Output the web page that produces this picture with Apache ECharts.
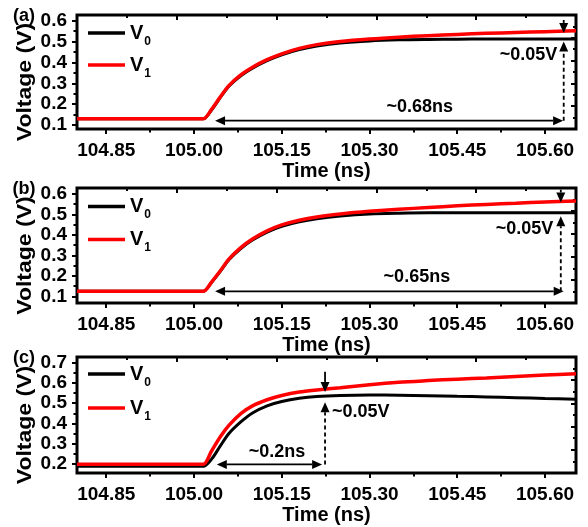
<!DOCTYPE html>
<html>
<head>
<meta charset="utf-8">
<script src="https://cdn.jsdelivr.net/npm/echarts@6/dist/echarts.min.js"></script>
<style>
  html, body { margin: 0; padding: 0; background: #fff; }
  #chart { width: 588px; height: 527px; }
</style>
</head>
<body>
<div id="chart"></div>
<script>
// Sample times (ns), shared by all three panels
const time = [104.80, 105.00, 105.016, 105.03, 105.045, 105.06, 105.08, 105.10, 105.125, 105.15,
              105.18, 105.21, 105.25, 105.30, 105.35, 105.40, 105.45, 105.50, 105.55, 105.60, 105.653];

// Panel (a) voltages (V)
const v0A = [0.13, 0.13, 0.13, 0.172, 0.232, 0.287, 0.336, 0.372, 0.408, 0.436,
             0.461, 0.478, 0.493, 0.503, 0.508, 0.510, 0.511, 0.512, 0.512, 0.512, 0.512];
const v1A = [0.13, 0.13, 0.13, 0.175, 0.235, 0.290, 0.340, 0.377, 0.413, 0.441,
             0.467, 0.485, 0.500, 0.512, 0.521, 0.528, 0.534, 0.539, 0.543, 0.547, 0.551];

// Panel (b) voltages (V)
const v0B = [0.125, 0.125, 0.125, 0.168, 0.222, 0.280, 0.334, 0.375, 0.414, 0.442,
             0.464, 0.479, 0.492, 0.502, 0.506, 0.508, 0.508, 0.508, 0.508, 0.508, 0.508];
const v1B = [0.125, 0.125, 0.125, 0.170, 0.225, 0.283, 0.338, 0.380, 0.420, 0.449,
             0.472, 0.488, 0.502, 0.515, 0.525, 0.534, 0.542, 0.549, 0.555, 0.561, 0.566];

// Panel (c) voltages (V)
const v0C = [0.19, 0.19, 0.19, 0.225, 0.290, 0.352, 0.408, 0.452, 0.487, 0.508,
             0.524, 0.533, 0.538, 0.540, 0.539, 0.537, 0.534, 0.531, 0.527, 0.523, 0.519];
const v1C = [0.20, 0.20, 0.20, 0.265, 0.335, 0.392, 0.449, 0.487, 0.517, 0.538,
             0.555, 0.565, 0.576, 0.591, 0.603, 0.611, 0.618, 0.624, 0.631, 0.638, 0.645];

// Tick values
const xTickLabels = [104.85, 105.00, 105.15, 105.30, 105.45, 105.60];
const xMinorTicks = [104.925, 105.075, 105.225, 105.375, 105.525];
const yTicksAB = [0.1, 0.2, 0.3, 0.4, 0.5, 0.6];
const yMinorAB = [0.15, 0.25, 0.35, 0.45, 0.55];
const yTicksC = [0.2, 0.3, 0.4, 0.5, 0.6, 0.7];
const yMinorC = [0.25, 0.35, 0.45, 0.55, 0.65];

// Annotation arrows: [t1, v1, t2, v2, doubleHeaded, dashed]
const arrowsA = [
  [105.036, 0.121, 105.631, 0.121, 1, 0],
  [105.632, 0.121, 105.632, 0.500, 0, 1],
  [105.632, 0.603, 105.632, 0.541, 0, 0]
];
const arrowsB = [
  [105.036, 0.125, 105.632, 0.125, 1, 0],
  [105.627, 0.125, 105.627, 0.491, 0, 1],
  [105.627, 0.621, 105.627, 0.558, 0, 0]
];
const arrowsC = [
  [105.039, 0.199, 105.219, 0.199, 1, 0],
  [105.224, 0.199, 105.224, 0.505, 0, 1],
  [105.224, 0.655, 105.224, 0.555, 0, 0]
];

// Annotation texts and their anchors: [t, v, align (0 centre, 1 right, 2 left)]
const notesTextA = ['~0.68ns', '~0.05V'];
const notesPosA = [[105.386, 0.187, 0], [105.621, 0.436, 1]];
const notesTextB = ['~0.65ns', '~0.05V'];
const notesPosB = [[105.381, 0.194, 0], [105.614, 0.427, 1]];
const notesTextC = ['~0.2ns', '~0.05V'];
const notesPosC = [[105.142, 0.259, 0], [105.236, 0.457, 2]];

const panelLabels = ['(a)', '(b)', '(c)'];

const FONT = 'Liberation Sans';
const X_MIN = 104.80, X_MAX = 105.653;

const panels = [
  { box: { left: 77, top: 15, width: 499, height: 114 }, yMin: 0.081, yMax: 0.627,
    yMajor: yTicksAB, yMinor: yMinorAB, v0: v0A, v1: v1A, arrows: arrowsA,
    noteText: notesTextA, notePos: notesPosA, legendRow: 33, legendPitch: 32 },
  { box: { left: 77, top: 188, width: 499, height: 115 }, yMin: 0.068, yMax: 0.629,
    yMajor: yTicksAB, yMinor: yMinorAB, v0: v0B, v1: v1B, arrows: arrowsB,
    noteText: notesTextB, notePos: notesPosB, legendRow: 206.5, legendPitch: 33 },
  { box: { left: 77, top: 357, width: 499, height: 116 }, yMin: 0.157, yMax: 0.727,
    yMajor: yTicksC, yMinor: yMinorC, v0: v0C, v1: v1C, arrows: arrowsC,
    noteText: notesTextC, notePos: notesPosC, legendRow: 374, legendPitch: 34 }
];

const black = '#000';
const tickLine = { color: black, width: 2 };

function arrowRender(params, api) {
  const a = api.coord([api.value(0), api.value(1)]);
  const b = api.coord([api.value(2), api.value(3)]);
  const both = api.value(4) === 1;
  const dashed = api.value(5) === 1;
  const dx = b[0] - a[0], dy = b[1] - a[1];
  const len = Math.hypot(dx, dy) || 1;
  const ux = dx / len, uy = dy / len;
  const HL = 10, HW = 4.5;
  const head = (tip, ex, ey) => ({
    type: 'polygon',
    shape: { points: [
      tip,
      [tip[0] - ex * HL - ey * HW, tip[1] - ey * HL + ex * HW],
      [tip[0] - ex * HL + ey * HW, tip[1] - ey * HL - ex * HW]
    ] },
    style: { fill: black }
  });
  const s = both ? [a[0] + ux * HL, a[1] + uy * HL] : a;
  const e = [b[0] - ux * HL, b[1] - uy * HL];
  const children = [
    { type: 'line', shape: { x1: s[0], y1: s[1], x2: e[0], y2: e[1] },
      style: { stroke: black, lineWidth: 1.8, lineDash: dashed ? [4, 3] : null } },
    head(b, ux, uy)
  ];
  if (both) children.push(head(a, -ux, -uy));
  return { type: 'group', children };
}

function noteRenderer(texts) {
  return function (params, api) {
    const p = api.coord([api.value(0), api.value(1)]);
    const code = api.value(2);
    const align = code === 1 ? 'right' : (code === 2 ? 'left' : 'center');
    return {
      type: 'text', x: p[0], y: p[1],
      style: {
        text: texts[params.dataIndex], fill: black,
        font: 'bold 18px "' + FONT + '"',
        align: align, verticalAlign: 'middle',
        textAlign: align, textVerticalAlign: 'middle'
      }
    };
  };
}

const grid = [], xAxis = [], yAxis = [], series = [], legend = [], graphic = [];

panels.forEach((p, i) => {
  grid.push(Object.assign({ show: true, borderColor: black, borderWidth: 3,
    backgroundColor: 'transparent' }, p.box));

  const xMain = xAxis.length;
  xAxis.push({
    type: 'value', gridIndex: i, position: 'bottom', min: X_MIN, max: X_MAX,
    axisLine: { show: false, onZero: false },
    axisTick: { show: true, customValues: xTickLabels, length: 5, lineStyle: tickLine },
    axisLabel: { show: true, customValues: xTickLabels, formatter: v => v.toFixed(2),
      margin: 12, color: black, fontFamily: FONT, fontWeight: 'bold', fontSize: 19 },
    splitLine: { show: false }
  });
  xAxis.push({
    type: 'value', gridIndex: i, position: 'bottom', min: X_MIN, max: X_MAX,
    axisLine: { show: false, onZero: false },
    axisTick: { show: true, customValues: xMinorTicks, length: 3.5, lineStyle: tickLine },
    axisLabel: { show: false }, splitLine: { show: false }
  });
  [[2, 5], [1, 3]].forEach(([iv, ln]) => {
    xAxis.push({
      type: 'value', gridIndex: i, position: 'top', min: 0, max: 10, interval: iv,
      axisLine: { show: false, onZero: false },
      axisTick: { show: true, inside: true, length: ln, lineStyle: tickLine },
      axisLabel: { show: false }, splitLine: { show: false }
    });
  });

  const yMain = yAxis.length;
  yAxis.push({
    type: 'value', gridIndex: i, position: 'left', min: p.yMin, max: p.yMax,
    axisLine: { show: false, onZero: false },
    axisTick: { show: true, customValues: p.yMajor, length: 5, lineStyle: tickLine },
    axisLabel: { show: true, customValues: p.yMajor, formatter: v => v.toFixed(1),
      margin: 10, color: black, fontFamily: FONT, fontWeight: 'bold', fontSize: 19 },
    splitLine: { show: false }
  });
  yAxis.push({
    type: 'value', gridIndex: i, position: 'left', min: p.yMin, max: p.yMax,
    axisLine: { show: false, onZero: false },
    axisTick: { show: true, customValues: p.yMinor, length: 3.5, lineStyle: tickLine },
    axisLabel: { show: false }, splitLine: { show: false }
  });
  [[2, 5], [1, 3]].forEach(([iv, ln]) => {
    yAxis.push({
      type: 'value', gridIndex: i, position: 'right', min: 0, max: 10, interval: iv,
      axisLine: { show: false, onZero: false },
      axisTick: { show: true, inside: true, length: ln, lineStyle: tickLine },
      axisLabel: { show: false }, splitLine: { show: false }
    });
  });

  series.push({
    type: 'line', name: 'V0', xAxisIndex: xMain, yAxisIndex: yMain,
    data: time.map((t, k) => [t, p.v0[k]]),
    symbol: 'none', smooth: 0.3, z: 2,
    lineStyle: { color: black, width: 3 }, itemStyle: { color: black }
  });
  series.push({
    type: 'line', name: 'V1', xAxisIndex: xMain, yAxisIndex: yMain,
    data: time.map((t, k) => [t, p.v1[k]]),
    symbol: 'none', smooth: 0.3, z: 3,
    lineStyle: { color: '#ff0000', width: 3.5 }, itemStyle: { color: '#ff0000' }
  });
  series.push({
    type: 'custom', xAxisIndex: xMain, yAxisIndex: yMain, clip: false, silent: true, z: 5,
    data: p.arrows, renderItem: arrowRender
  });
  series.push({
    type: 'custom', xAxisIndex: xMain, yAxisIndex: yMain, clip: false, silent: true, z: 5,
    data: p.notePos, renderItem: noteRenderer(p.noteText)
  });

  const rowH = 29;
  legend.push({
    data: ['V0', 'V1'], orient: 'vertical', selectedMode: false,
    left: 83, top: p.legendRow - 5 - rowH / 2, itemGap: p.legendPitch - rowH,
    icon: 'rect', itemWidth: 37, itemHeight: 3.5,
    formatter: name => 'V{sub|' + name.slice(1) + '}',
    textStyle: {
      color: black, fontFamily: FONT, fontWeight: 'bold', fontSize: 20, lineHeight: rowH,
      rich: { sub: { color: black, fontFamily: FONT, fontWeight: 'bold', fontSize: 12,
                     lineHeight: 12, verticalAlign: 'bottom', padding: [0, 0, 0, 1] } }
    }
  });

  const b = p.box;
  const bottom = b.top + b.height;
  graphic.push({
    type: 'text', x: 24, y: b.top + 1, silent: true,
    style: { text: panelLabels[i], fill: black, font: 'bold 18px "' + FONT + '"',
             align: 'center', verticalAlign: 'middle', textAlign: 'center', textVerticalAlign: 'middle' }
  });
  graphic.push({
    type: 'text', x: b.left + b.width / 2, y: bottom + 42, silent: true,
    style: { text: 'Time (ns)', fill: black, font: 'bold 20px "' + FONT + '"',
             align: 'center', verticalAlign: 'middle', textAlign: 'center', textVerticalAlign: 'middle' }
  });
  graphic.push({
    type: 'text', x: 25, y: b.top + b.height / 2 + 10, rotation: Math.PI / 2, scaleX: 1.15,
    silent: true,
    style: { text: 'Voltage (V)', fill: black, font: 'bold 20px "' + FONT + '"',
             align: 'center', verticalAlign: 'middle', textAlign: 'center', textVerticalAlign: 'middle' }
  });
});

const chart = echarts.init(document.getElementById('chart'), null, { renderer: 'canvas' });
chart.setOption({
  animation: false,
  backgroundColor: '#fff',
  grid, xAxis, yAxis, series, legend, graphic
});
</script>
</body>
</html>
